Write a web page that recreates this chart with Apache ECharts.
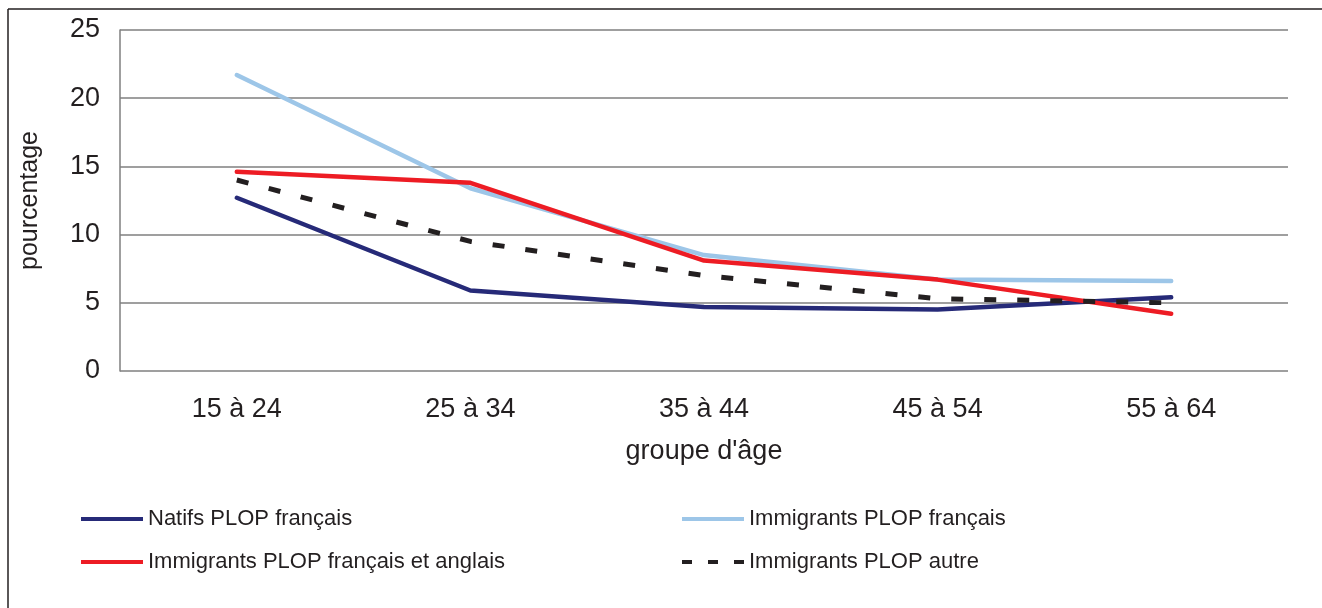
<!DOCTYPE html>
<html style="height: 100%">
<head>
	<meta charset="utf-8">
	<script type="text/javascript" src="https://cdn.jsdelivr.net/npm/echarts@6/dist/echarts.min.js"></script>
</head>
<body style="height: 100%; margin: 0; background: #fff">
	<div id="container" style="width: 1322px; height: 608px;"></div>
	<script type="text/javascript">
		let categories = ['15 à 24', '25 à 34', '35 à 44', '45 à 54', '55 à 64'];
		let seriesNames = ['Natifs PLOP français', 'Immigrants PLOP français', 'Immigrants PLOP français et anglais', 'Immigrants PLOP autre'];
		let natifsFr = [12.7, 5.9, 4.7, 4.5, 5.4];
		let immigFr = [21.7, 13.4, 8.5, 6.7, 6.6];
		let immigFrAng = [14.6, 13.8, 8.1, 6.7, 4.2];
		let immigAutre = [14.0, 9.5, 7.0, 5.3, 5.0];
		let colors = ['#262a78', '#9dc6e8', '#ed1c24', '#231f20'];

		let dom = document.getElementById("container");
		let myChart = echarts.init(dom);
		let font = 'Liberation Sans, Arial, sans-serif';

		let solidIcon = 'path://M0,0h62v4h-62z';
		let dashIcon = 'path://M0,0h10v4h-10z M26,0h10v4h-10z M52,0h10v4h-10z';

		// one legend per item so each sits in its own column / row
		function legendAt(name, left, top, icon) {
			return {
				data: [{ name: name, icon: icon }],
				left: left,
				top: top,
				padding: 0,
				itemWidth: 62,
				itemHeight: 4,
				textStyle: { fontSize: 22, color: '#231f20', fontFamily: font }
			};
		}

		function lineSeries(name, data, color, dash) {
			return {
				name: name,
				type: 'line',
				data: data,
				symbol: 'none',
				lineStyle: {
					color: color,
					width: dash ? 5 : 4.5,
					type: dash ? [12, 21] : 'solid',
					cap: dash ? 'butt' : 'round'
				},
				itemStyle: { color: color },
				emphasis: { disabled: true }
			};
		}

		let option = {
			animation: false,
			textStyle: { fontFamily: font },
			graphic: [
				{ type: 'line', shape: { x1: 8, y1: 9, x2: 1322, y2: 9 }, style: { stroke: '#231f20', lineWidth: 1.5 } },
				{ type: 'line', shape: { x1: 8, y1: 9, x2: 8, y2: 608 }, style: { stroke: '#231f20', lineWidth: 1.5 } }
			],
			grid: { left: 120, top: 30, right: 34, bottom: 237 },
			legend: [
				legendAt(seriesNames[0], 81, 508, solidIcon),
				legendAt(seriesNames[1], 682, 508, solidIcon),
				legendAt(seriesNames[2], 81, 551, solidIcon),
				legendAt(seriesNames[3], 682, 551, dashIcon)
			],
			xAxis: {
				type: 'category',
				data: categories,
				boundaryGap: true,
				axisLine: { show: false },
				axisTick: { show: false },
				axisLabel: { fontSize: 27, color: '#231f20', margin: 25 },
				name: "groupe d'âge",
				nameLocation: 'middle',
				nameGap: 67,
				nameTextStyle: { fontSize: 27, color: '#231f20' }
			},
			yAxis: {
				type: 'value',
				min: 0,
				max: 25,
				interval: 5,
				axisLine: { show: true, lineStyle: { color: '#7f7f7f', width: 1.5 } },
				axisTick: { show: false },
				splitLine: { lineStyle: { color: '#7f7f7f', width: 1.5 } },
				axisLabel: { fontSize: 27, color: '#231f20', margin: 20 },
				name: 'pourcentage',
				nameLocation: 'middle',
				nameGap: 77,
				nameTextStyle: { fontSize: 25, color: '#231f20' }
			},
			series: [
				lineSeries(seriesNames[0], natifsFr, colors[0], false),
				lineSeries(seriesNames[1], immigFr, colors[1], false),
				lineSeries(seriesNames[2], immigFrAng, colors[2], false),
				lineSeries(seriesNames[3], immigAutre, colors[3], true)
			]
		};

		myChart.setOption(option, true);
	</script>
</body>
</html>
